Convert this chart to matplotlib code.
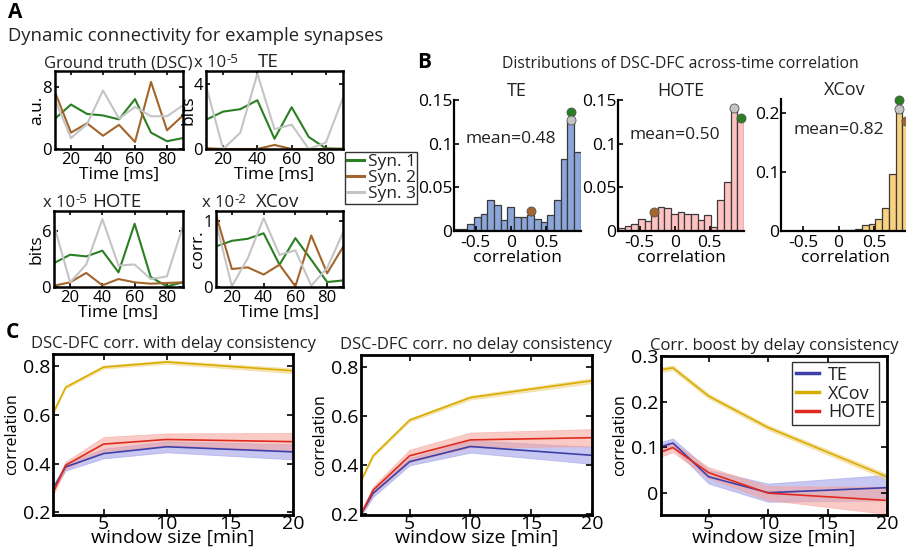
import numpy as np
import matplotlib
matplotlib.use('Agg')
import matplotlib.pyplot as plt
from matplotlib.lines import Line2D

plt.rcParams['font.family'] = ['Open Sans', 'DejaVu Sans']
plt.rcParams['font.size'] = 12
plt.rcParams['axes.linewidth'] = 1.8
plt.rcParams['xtick.direction'] = 'in'
plt.rcParams['ytick.direction'] = 'in'
plt.rcParams['xtick.major.width'] = 1.2
plt.rcParams['ytick.major.width'] = 1.2
plt.rcParams['xtick.major.size'] = 3.5
plt.rcParams['ytick.major.size'] = 3.5
plt.rcParams['xtick.major.pad'] = 2
plt.rcParams['ytick.major.pad'] = 2
plt.rcParams['text.color'] = '#222222'

# ---------------- data ----------------
time_ms = [10, 20, 30, 40, 50, 60, 70, 80, 90]
syn_labels = ['Syn. 1', 'Syn. 2', 'Syn. 3']
syn_colors = ['#2A7F22', '#A3652B', '#C4C4C4']

gt_syn1 = [3.9, 5.7, 4.5, 4.3, 3.8, 6.4, 2.1, 1.0, 1.4]
gt_syn2 = [7.3, 2.1, 3.3, 1.7, 3.1, 0.9, 8.6, 2.4, 4.3]
gt_syn3 = [6.3, 1.4, 3.2, 7.5, 3.9, 5.4, 4.2, 4.2, 5.6]

te_syn1 = [1.8, 2.3, 2.45, 3.0, 0.63, 2.57, 0.74, 0.04, 0.0]
te_syn2 = [0.05, 0.0, 0.0, 0.0, 0.25, 0.0, 0.0, 0.0, 0.02]
te_syn3 = [3.9, 0.0, 1.0, 4.63, 1.22, 1.5, 0.0, 0.4, 3.15]

hote_syn1 = [2.55, 3.44, 3.26, 3.87, 1.56, 6.74, 1.06, 0.07, 0.5]
hote_syn2 = [0.14, 0.5, 1.5, 0.18, 0.85, 0.5, 0.35, 0.43, 0.5]
hote_syn3 = [6.6, 0.5, 2.4, 7.23, 2.3, 2.4, 0.85, 1.13, 6.5]

xcov_syn1 = [0.62, 0.705, 0.736, 0.82, 0.34, 0.746, 0.416, 0.076, 0.10]
xcov_syn2 = [1.10, 0.274, 0.30, 0.19, 0.34, 0.01, 0.787, 0.21, 0.61]
xcov_syn3 = [0.985, 0.01, 0.44, 1.05, 0.49, 0.56, 0.02, 0.29, 0.83]

# histograms of across-time correlation (19 bins)
bin_lo, bin_hi, n_bins = -0.81, 0.99, 19
te_hist = [0.0023, 0.002, 0.0083, 0.016, 0.020, 0.0356, 0.030, 0.0125, 0.027, 0.016,
           0.016, 0.0186, 0.014, 0.010, 0.018, 0.0356, 0.083, 0.126, 0.091]
hote_hist = [0.0034, 0.0057, 0.0083, 0.0136, 0.012, 0.0178, 0.027, 0.026, 0.020, 0.0216,
             0.020, 0.020, 0.0125, 0.0178, 0.0045, 0.0356, 0.0557, 0.139, 0.128]
xcov_hist = [0.0005, 0.0005, 0.0005, 0.0005, 0.0005, 0.0005, 0.0005, 0.0005, 0.0008, 0.001,
             0.002, 0.004, 0.010, 0.011, 0.021, 0.039, 0.097, 0.212, 0.190]
means = ['mean=0.48', 'mean=0.50', 'mean=0.82']
# example synapse markers: (bin index, height) for syn1, syn2, syn3
te_marks = [(17, 0.136), (11, 0.0227), (17, 0.127)]
hote_marks = [(18, 0.129), (5, 0.022), (17, 0.141)]
xcov_marks = [(17, 0.2215), (18, 0.185), (17, 0.206)]

# panel C
window_min = [1, 2, 5, 10, 20]
c1_te = [0.297, 0.386, 0.441, 0.469, 0.448]
c1_te_err = [0.01, 0.015, 0.02, 0.023, 0.031]
c1_xcov = [0.607, 0.714, 0.797, 0.818, 0.782]
c1_xcov_err = [0.004, 0.005, 0.006, 0.007, 0.01]
c1_hote = [0.279, 0.393, 0.48, 0.499, 0.49]
c1_hote_err = [0.01, 0.015, 0.029, 0.025, 0.036]

c2_te = [0.20, 0.285, 0.414, 0.476, 0.44]
c2_te_err = [0.008, 0.015, 0.015, 0.025, 0.035]
c2_xcov = [0.336, 0.438, 0.584, 0.676, 0.745]
c2_xcov_err = [0.005, 0.005, 0.006, 0.008, 0.01]
c2_hote = [0.20, 0.298, 0.438, 0.503, 0.512]
c2_hote_err = [0.008, 0.015, 0.025, 0.03, 0.035]

c3_te = [0.101, 0.109, 0.035, 0.0, 0.011]
c3_te_err = [0.01, 0.01, 0.015, 0.02, 0.028]
c3_xcov = [0.27, 0.274, 0.212, 0.143, 0.035]
c3_xcov_err = [0.005, 0.005, 0.005, 0.005, 0.006]
c3_hote = [0.089, 0.099, 0.044, -0.001, -0.017]
c3_hote_err = [0.01, 0.01, 0.012, 0.015, 0.03]

method_labels = ['TE', 'XCov', 'HOTE']
method_line = ['#3F3FA8', '#D9AC00', '#E02A1E']
method_band = ['#9A9AE6', '#F0D27A', '#F7A197']

# ---------------- layout ----------------
W, H = 906, 556
fig = plt.figure(figsize=(W / 100, H / 100), dpi=100)


def box(l, t, r, b):
    return fig.add_axes([l / W, 1 - b / H, (r - l) / W, (b - t) / H])


def ftext(x, y, s, **kw):
    return fig.text(x / W, 1 - y / H, s, **kw)


# ---------------- Panel A ----------------
ftext(8, 18, 'A', fontsize=15, fontweight='bold', color='black', va='baseline')
ftext(8, 41, 'Dynamic connectivity for example synapses', fontsize=13.3, va='baseline')

# (axes box), series, ylim, yticks, ylabel, exponent, title, title centre, exponent x, baseline y
a_specs = [
    ((55, 71, 183, 149), [gt_syn1, gt_syn2, gt_syn3], (0, 10), [0, 8], 'a.u.', None, 'Ground truth (DSC)', 118, 0, 67),
    ((206, 71, 343, 149), [te_syn1, te_syn2, te_syn3], (0, 4.8), [0, 4], 'bits', '-5', 'TE', 268, 194, 67),
    ((54, 211, 183, 287), [hote_syn1, hote_syn2, hote_syn3], (0, 8.1), [0, 6], 'bits', '-5', 'HOTE', 117, 43, 207),
    ((216, 211, 343, 287), [xcov_syn1, xcov_syn2, xcov_syn3], (0, 1.16), [0, 1], 'corr.', '-2', 'XCov', 278, 202, 207),
]
for (l, t, r, b), series, ylim, yt, ylab, expo, title, tcx, ex, ty in a_specs:
    ax = box(l, t, r, b)
    for s, c in zip(series, syn_colors):
        ax.plot(time_ms, s, color=c, lw=1.5)
    ax.set_xlim(10, 90)
    ax.set_ylim(*ylim)
    ax.set_xticks([20, 40, 60, 80])
    ax.set_yticks(yt)
    ax.set_yticklabels([str(v) for v in yt])
    ax.tick_params(top=True, right=True, labelsize=12, length=3)
    ax.set_xlabel('Time [ms]', fontsize=12.5, labelpad=-1)
    ax.set_ylabel(ylab, fontsize=12.5, labelpad=-2)
    if expo is None:
        ftext(tcx, ty, title, fontsize=12, ha='center', va='baseline')
    else:
        base = ftext(ex, ty, 'x 10', fontsize=12, ha='left', va='baseline')
        ax.annotate(expo, xy=(1.0, 0.0), xycoords=base, xytext=(0.3, 5.5),
                    textcoords='offset points', fontsize=9.5, ha='left', va='baseline',
                    annotation_clip=False)
        ftext(tcx, ty, title, fontsize=13.5, ha='center', va='baseline')

handles = [Line2D([], [], color=c, lw=2.2) for c in syn_colors]
leg = fig.legend(handles, syn_labels, loc='upper left', bbox_to_anchor=(345 / W, 1 - 152 / H),
                 fontsize=12.5, frameon=True, fancybox=False, handlelength=1.0, handletextpad=0.2,
                 labelspacing=0.0, borderpad=0.1, borderaxespad=0)
leg.get_frame().set_edgecolor('black')
leg.get_frame().set_linewidth(1.0)

# ---------------- Panel B ----------------
ftext(417, 68, 'B', fontsize=15, fontweight='bold', color='black', va='baseline')
ftext(680, 68, 'Distributions of DSC-DFC across-time correlation', fontsize=11.3, ha='center', va='baseline')

edges = np.linspace(bin_lo, bin_hi, n_bins + 1)
centers = 0.5 * (edges[:-1] + edges[1:])
bw = edges[1] - edges[0]
b_specs = [
    ((454, 100, 580.5, 231), te_hist, '#8CA6DA', (0, 0.15), [0, 0.05, 0.1, 0.15], ['0', '0.05', '0.1', '0.15'], 'TE', te_marks, 0.105),
    ((618, 100, 744, 231), hote_hist, '#FFC2C2', (0, 0.15), [0, 0.05, 0.1, 0.15], ['0', '0.05', '0.1', '0.15'], 'HOTE', hote_marks, 0.11),
    ((781, 99, 909, 231), xcov_hist, '#F8D27E', (0, 0.223), [0, 0.1, 0.2], ['0', '0.1', '0.2'], 'XCov', xcov_marks, 0.171),
]
for i, ((l, t, r, b), hist, fc, ylim, yt, ytl, title, marks, my) in enumerate(b_specs):
    ax = box(l, t, r, b)
    ax.bar(centers, hist, width=bw, color=fc, edgecolor='#3A3A3A', linewidth=0.9)
    ax.set_xlim(bin_lo, bin_hi)
    ax.set_ylim(*ylim)
    ax.set_yticks(yt)
    ax.set_yticklabels(ytl)
    ax.set_xticks([-0.5, 0, 0.5])
    ax.set_xticklabels(['-0.5', '0', '0.5'])
    for sp in ['top', 'right']:
        ax.spines[sp].set_visible(False)
    ax.spines['left'].set_linewidth(1.6)
    ax.spines['bottom'].set_linewidth(1.6)
    ax.tick_params(labelsize=12.5, length=3.5, pad=1)
    ax.tick_params(axis='x', pad=3)
    ax.set_xlabel('correlation', fontsize=12.5, labelpad=-1)
    ax.set_title(title, fontsize=13, pad=1)
    ax.text(0.0, my, means[i], fontsize=12.5, ha='center', va='center')
    for (bi, h), c in zip(marks, syn_colors):
        ax.plot(centers[bi], h, 'o', ms=6.5, mfc=c, mec='#555555', mew=0.6, zorder=5, clip_on=False)

# ---------------- Panel C ----------------
ftext(6, 338, 'C', fontsize=15, fontweight='bold', color='black', va='baseline')
c_specs = [
    ((53, 354, 293, 515), (c1_te, c1_xcov, c1_hote), (c1_te_err, c1_xcov_err, c1_hote_err), (0.188, 0.851),
     [0.2, 0.4, 0.6, 0.8], 'DSC-DFC corr. with delay consistency'),
    ((361, 355, 592, 515), (c2_te, c2_xcov, c2_hote), (c2_te_err, c2_xcov_err, c2_hote_err), (0.196, 0.85),
     [0.2, 0.4, 0.6, 0.8], 'DSC-DFC corr. no delay consistency'),
    ((661, 356, 887, 515), (c3_te, c3_xcov, c3_hote), (c3_te_err, c3_xcov_err, c3_hote_err), (-0.049, 0.30),
     [0, 0.1, 0.2, 0.3], 'Corr. boost by delay consistency'),
]
for k, ((l, t, r, b), ys, errs, ylim, yt, title) in enumerate(c_specs):
    ax = box(l, t, r, b)
    x = np.array(window_min, dtype=float)
    for y, e, lc, bc in zip(ys, errs, method_line, method_band):
        y = np.array(y)
        e = np.array(e)
        ax.fill_between(x, y - e, y + e, facecolor=bc, alpha=0.55, edgecolor=bc, linewidth=0.6)
        ax.plot(x, y, color=lc, lw=1.2)
    ax.set_xlim(1, 20)
    ax.set_ylim(*ylim)
    ax.set_xticks([5, 10, 15, 20])
    ax.set_yticks(yt)
    ax.set_yticklabels([('%g' % v) for v in yt])
    ax.tick_params(top=True, right=True, labelsize=14, length=4, pad=2)
    ax.tick_params(axis='x', pad=0)
    ax.set_xlabel('window size [min]', fontsize=14, labelpad=-3)
    ax.set_ylabel('correlation', fontsize=11.5, labelpad=2)
    ax.set_title(title, fontsize=12, pad=4)
    for sp in ax.spines.values():
        sp.set_linewidth(2.0)
    if k == 2:
        hh = [Line2D([], [], color=c, lw=2.5) for c in method_line]
        lg = ax.legend(hh, method_labels, loc='upper right', fontsize=13, fancybox=False,
                       handlelength=1.3, handletextpad=0.5, labelspacing=0.05, borderpad=0.2,
                       borderaxespad=0, bbox_to_anchor=(0.965, 0.962))
        lg.get_frame().set_edgecolor('black')
        lg.get_frame().set_linewidth(1.0)

fig.savefig('out.png', dpi=100)
